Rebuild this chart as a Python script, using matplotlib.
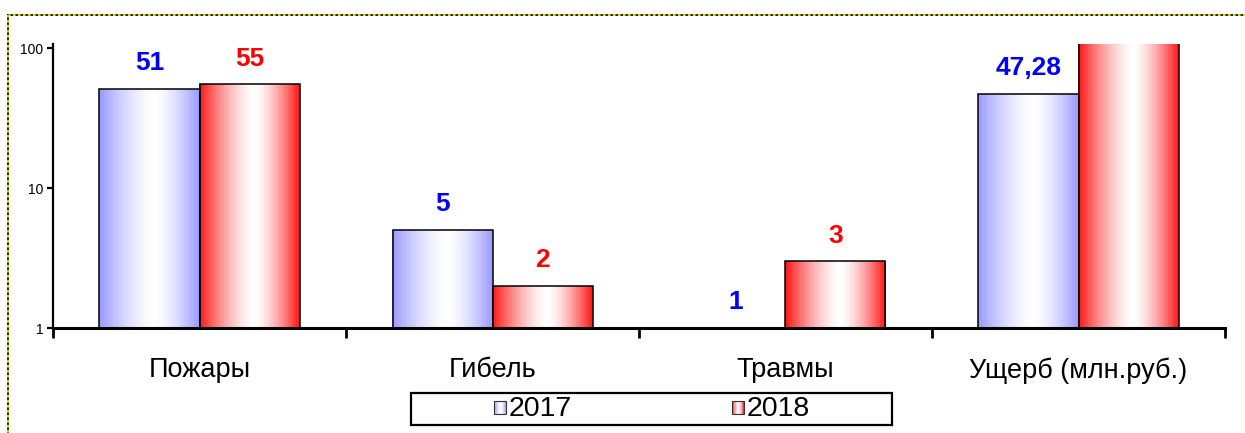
import numpy as np
import matplotlib
matplotlib.use('Agg')
import matplotlib.pyplot as plt
from matplotlib.patches import Rectangle
from matplotlib.legend_handler import HandlerBase
from matplotlib.lines import Line2D

categories = ['Пожары', 'Гибель', 'Травмы', 'Ущерб (млн.руб.)']
years = ['2017', '2018']
values_2017 = [51, 5, 1, 47.28]
values_2018 = [55, 2, 3, 120]
labels_2017 = ['51', '5', '1', '47,28']
labels_2018 = ['55', '2', '3', '120']
yticks = [1, 10, 100]
ytick_labels = ['1', '10', '100']

plt.rcParams['font.family'] = ['Liberation Sans', 'DejaVu Sans']

W, H = 1245, 433
fig = plt.figure(figsize=(W / 100, H / 100), dpi=100)
ax = fig.add_axes([53 / W, 105 / H, (1225 - 53) / W, 284 / H])
ax.set_yscale('log')
ax.set_ylim(1, 107)
ax.set_xlim(-0.5, len(categories) - 0.5)

EDGE_BLUE = np.array([0.60, 0.60, 1.0])
EDGE_RED = np.array([1.0, 0.08, 0.08])
TEXT_BLUE = (0, 0, 1)
TEXT_RED = (1, 0, 0)


def grad_colors(edge, n, center=0.55, power=1.5):
    t = (np.arange(n) + 0.5) / n
    d = np.where(t < center, (center - t) / center, (t - center) / (1 - center))
    f = d ** power
    white = np.ones(3)
    return [tuple(white * (1 - fi) + edge * fi) for fi in f]


def gradient_bar(ax, x0, width, value, edge, n=60):
    if value <= 1:
        return
    cols = grad_colors(edge, n)
    sw = width / n
    xs = x0 + sw * np.arange(n) + sw / 2
    ax.bar(xs, [value - 1] * n, width=sw * 1.02, bottom=1, color=cols,
           edgecolor='none', linewidth=0, zorder=2)
    ax.bar([x0 + width / 2], [value - 1], width=width, bottom=1,
           facecolor='none', edgecolor='black', linewidth=1.1, zorder=3)


bw = 100 / 293
for i in range(len(categories)):
    gradient_bar(ax, i - bw, bw, values_2017[i], EDGE_BLUE)
    gradient_bar(ax, i, bw, values_2018[i], EDGE_RED)
    ax.annotate(labels_2017[i], xy=(i - bw / 2, values_2017[i]), xytext=(0, 18.5),
                textcoords='offset points', ha='center', va='center',
                fontsize=19, fontweight='bold', color=TEXT_BLUE)
    ax.annotate(labels_2018[i], xy=(i + bw / 2, values_2018[i]), xytext=(0, 18.5),
                textcoords='offset points', ha='center', va='center',
                fontsize=19, fontweight='bold', color=TEXT_RED)

# axes styling
for s in ['top', 'right']:
    ax.spines[s].set_visible(False)
ax.spines['left'].set_linewidth(1.6)
ax.spines['bottom'].set_linewidth(2.2)
ax.set_yticks(yticks)
ax.set_yticklabels(ytick_labels, fontsize=10)
ax.yaxis.set_minor_locator(matplotlib.ticker.NullLocator())
ax.tick_params(axis='y', which='major', direction='out', length=4, width=1.6, pad=3)

ax.set_xticks(np.arange(len(categories) + 1) - 0.5)
ax.set_xticklabels([])
ax.tick_params(axis='x', which='major', direction='out', length=7, width=2)
ax.set_xticks(np.arange(len(categories)), minor=True)
ax.set_xticklabels(categories, minor=True, fontsize=19.5)
ax.tick_params(axis='x', which='minor', length=0, pad=21)


# legend with gradient handles
class HandlerGradient(HandlerBase):
    def __init__(self, edge):
        super().__init__()
        self.edge = edge

    def create_artists(self, legend, orig_handle, xdescent, ydescent, width, height, fontsize, trans):
        n = 20
        cols = grad_colors(self.edge, n)
        w = 12 * 72 / 100
        h = 13 * 72 / 100
        x0 = -xdescent + (width - w)
        y0 = -ydescent + (height - h) / 2 - 1
        arts = []
        for k, c in enumerate(cols):
            r = Rectangle((x0 + k * w / n, y0), w / n * 1.05, h, facecolor=c,
                          edgecolor='none', transform=trans)
            arts.append(r)
        arts.append(Rectangle((x0, y0), w, h, facecolor='none', edgecolor='#333333',
                              linewidth=0.8, transform=trans))
        return arts


h1 = Line2D([], [])
h2 = Line2D([], [])
leg = fig.legend([h1, h2], years, loc='center',
                 bbox_to_anchor=((411 + 892) / 2 / W, 1 - 409 / H),
                 ncol=2, frameon=False, fontsize=20.5, columnspacing=5.6,
                 handlelength=0.45, handletextpad=0.08,
                 handler_map={h1: HandlerGradient(EDGE_BLUE), h2: HandlerGradient(EDGE_RED)})
fig.patches.append(Rectangle((411 / W, 1 - 425 / H), (892 - 411) / W, 32 / H,
                             transform=fig.transFigure, facecolor='none',
                             edgecolor='black', linewidth=1.6))

# outer dotted border (yellow/black)
for xs, ys in [([8 / W, 1], [1 - 15 / H, 1 - 15 / H]), ([8 / W, 8 / W], [1 - 15 / H, 0])]:
    fig.add_artist(Line2D(xs, ys, transform=fig.transFigure, color='black', linewidth=1.2))
    fig.add_artist(Line2D(xs, ys, transform=fig.transFigure, color='#ffff00', linewidth=1.2,
                          linestyle=(0, (1.5, 1.5))))

fig.savefig('out.png', dpi=100)
